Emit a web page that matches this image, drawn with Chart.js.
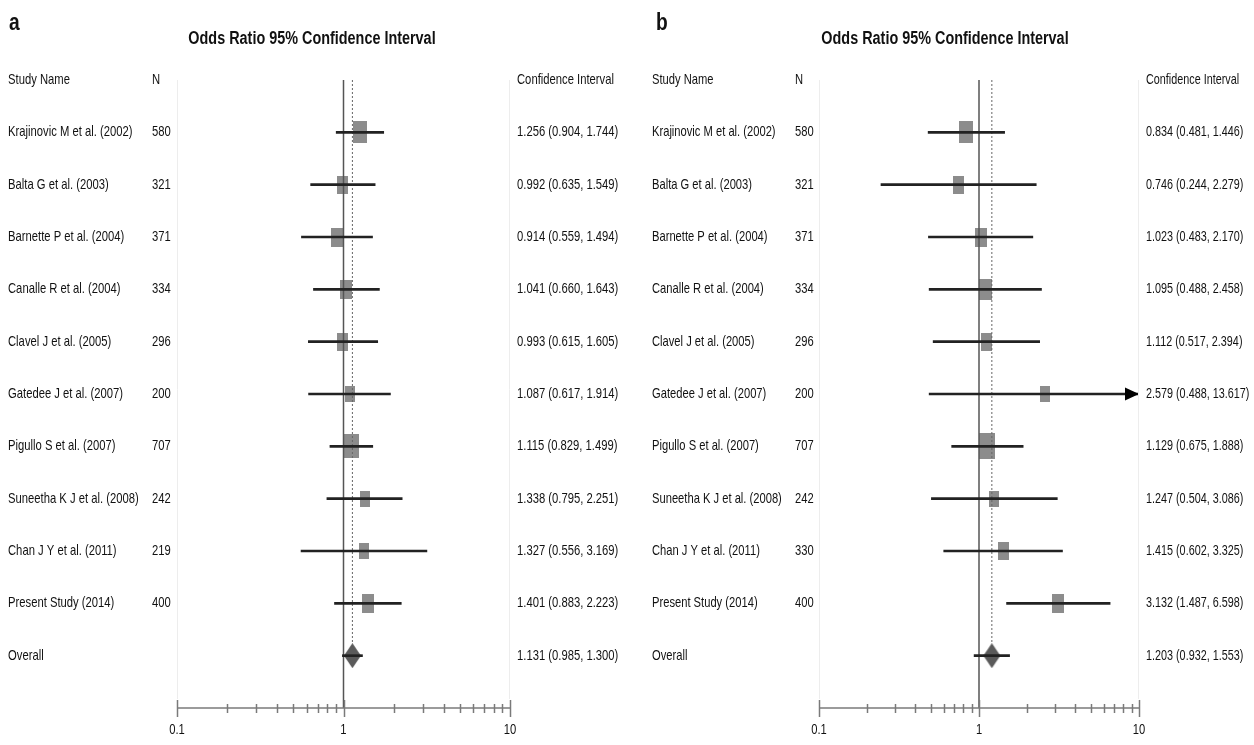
<!DOCTYPE html>
<html>
<head>
<meta charset="utf-8">
<script src="https://cdn.jsdelivr.net/npm/chart.js@4.4.1/dist/chart.umd.min.js"></script>
<style>
  body { margin: 0; background: #fff; }
  #wrap { position: relative; width: 1254px; height: 745px; }
  canvas { position: absolute; top: 0; }
  #forestA { left: 0; }
  #forestB { left: 627px; }
</style>
</head>
<body>
<div id="wrap">
  <canvas id="forestA" width="627" height="745"></canvas>
  <canvas id="forestB" width="627" height="745"></canvas>
</div>
<script>
// study rows (last one is the pooled estimate)
const studies = [
    "Krajinovic M et al. (2002)", "Balta G et al. (2003)", "Barnette P et al. (2004)",
    "Canalle R et al. (2004)", "Clavel J et al. (2005)", "Gatedee J et al. (2007)",
    "Pigullo S et al. (2007)", "Suneetha K J et al. (2008)", "Chan J Y et al. (2011)",
    "Present Study (2014)", "Overall"
];

// panel a
const nA  = [580, 321, 371, 334, 296, 200, 707, 242, 219, 400];
const orA = [1.256, 0.992, 0.914, 1.041, 0.993, 1.087, 1.115, 1.338, 1.327, 1.401, 1.131];
const loA = [0.904, 0.635, 0.559, 0.660, 0.615, 0.617, 0.829, 0.795, 0.556, 0.883, 0.985];
const hiA = [1.744, 1.549, 1.494, 1.643, 1.605, 1.914, 1.499, 2.251, 3.169, 2.223, 1.300];
const wtA = [14, 11, 12, 12, 11, 10, 15, 10, 10, 12];   // relative study weight (box size)

// panel b
const nB  = [580, 321, 371, 334, 296, 200, 707, 242, 330, 400];
const orB = [0.834, 0.746, 1.023, 1.095, 1.112, 2.579, 1.129, 1.247, 1.415, 3.132, 1.203];
const loB = [0.481, 0.244, 0.483, 0.488, 0.517, 0.488, 0.675, 0.504, 0.602, 1.487, 0.932];
const hiB = [1.446, 2.279, 2.170, 2.458, 2.394, 13.617, 1.888, 3.086, 3.325, 6.598, 1.553];
const wtB = [14, 11, 12, 13, 11, 10, 16, 10, 11, 12];

const tickValues = [0.1, 1, 10];
const tickLabels = ["0.1", "1", "10"];

const FONT = "'Liberation Sans', Arial, sans-serif";

function text(ctx, s, x, y, font, align, squeeze) {
    ctx.save();
    ctx.font = font;
    ctx.fillStyle = "#111";
    ctx.textAlign = align || "left";
    ctx.textBaseline = "middle";
    ctx.translate(x, y);
    ctx.scale(squeeze || 0.8, 1);
    ctx.fillText(s, 0, 0);
    ctx.restore();
}

function boxImage(w, h) {
    const c = document.createElement("canvas");
    c.width = w; c.height = h;
    const g = c.getContext("2d");
    g.fillStyle = "#8c8c8c";
    g.fillRect(0, 0, w, h);
    return c;
}

function diamondImage(w, h) {
    const c = document.createElement("canvas");
    c.width = w; c.height = h;
    const g = c.getContext("2d");
    g.fillStyle = "#5a5a5a";
    g.beginPath();
    g.moveTo(w / 2, 0);
    g.lineTo(w, h / 2);
    g.lineTo(w / 2, h);
    g.lineTo(0, h / 2);
    g.closePath();
    g.fill();
    return c;
}

function ciText(o, l, h) {
    return o.toFixed(3) + " (" + l.toFixed(3) + ", " + h.toFixed(3) + ")";
}

function forest(id, cfg) {
    const last = studies.length - 1;
    const xMax = 10;
    const body = "15px " + FONT;

    const squares = cfg.wt.map(function(w, i) {
        return { x: cfg.or[i], y: i };
    });
    const squareStyles = cfg.wt.map(function(w) {
        return boxImage(w, Math.round(w * 1.6));
    });

    const labelsPlugin = {
        id: "forestText",
        afterDraw: function(chart) {
            const ctx = chart.ctx;
            const xs = chart.scales.x;
            const ys = chart.scales.y;
            const area = chart.chartArea;
            const c = cfg.cols;

            text(ctx, cfg.letter, c.letter, 23, "bold 24px " + FONT);
            text(ctx, "Odds Ratio 95% Confidence Interval", c.title, 39, "bold 18px " + FONT, "center");

            const hy = ys.getPixelForValue(-1);
            text(ctx, "Study Name", c.name, hy, body, "left", cfg.sqName);
            text(ctx, "N", c.n, hy, body, "left", cfg.sqName);
            text(ctx, "Confidence Interval", c.ci, hy, body, "left", cfg.sqCi);

            studies.forEach(function(s, i) {
                const y = ys.getPixelForValue(i);
                text(ctx, s, c.name, y, body, "left", cfg.sqName);
                if (i < last) text(ctx, String(cfg.n[i]), c.n, y, body, "left", cfg.sqName);
                text(ctx, ciText(cfg.or[i], cfg.lo[i], cfg.hi[i]), c.ci, y, body, "left", cfg.sqCi);
            });

            // arrows for intervals running past the axis
            ctx.save();
            ctx.fillStyle = "#000";
            cfg.hi.forEach(function(h, i) {
                if (h > xMax) {
                    const tip = xs.getPixelForValue(xMax);
                    const y = ys.getPixelForValue(i);
                    ctx.beginPath();
                    ctx.moveTo(tip, y);
                    ctx.lineTo(tip - 14, y - 6.5);
                    ctx.lineTo(tip - 14, y + 6.5);
                    ctx.closePath();
                    ctx.fill();
                }
            });
            ctx.restore();

            // bottom log axis
            const ay = area.bottom;
            ctx.save();
            ctx.strokeStyle = "#7a7a7a";
            ctx.lineWidth = 1.5;
            ctx.beginPath();
            ctx.moveTo(xs.getPixelForValue(xs.min), ay);
            ctx.lineTo(xs.getPixelForValue(xs.max), ay);
            ctx.stroke();
            [0.1, 1].forEach(function(d) {
                for (let k = 1; k <= 9; k++) {
                    const px = Math.round(xs.getPixelForValue(k * d)) + 0.5;
                    const big = k === 1;
                    ctx.beginPath();
                    ctx.moveTo(px, ay - (big ? 8 : 4));
                    ctx.lineTo(px, ay + (big ? 9 : 5));
                    ctx.stroke();
                }
            });
            const p10 = Math.round(xs.getPixelForValue(10)) + 0.5;
            ctx.beginPath();
            ctx.moveTo(p10, ay - 8);
            ctx.lineTo(p10, ay + 9);
            ctx.stroke();

            // faint frame of the plot column
            ctx.strokeStyle = "#ededed";
            ctx.lineWidth = 1;
            [area.left + 0.5, area.right - 0.5].forEach(function(px) {
                ctx.beginPath();
                ctx.moveTo(px, area.top);
                ctx.lineTo(px, ay - 9);
                ctx.stroke();
            });
            ctx.restore();

            tickValues.forEach(function(v, i) {
                text(ctx, tickLabels[i], xs.getPixelForValue(v), ay + 22, body, "center", cfg.sqName);
            });
        }
    };

    return new Chart(document.getElementById(id), {
        type: "scatter",
        data: {
            datasets: [{
                label: "studies",
                data: squares,
                pointStyle: squareStyles,
                order: 3
            }, {
                label: "overall",
                data: [{ x: cfg.or[last], y: last }],
                pointStyle: diamondImage(17, 25),
                order: 3
            }, {
                label: "no effect",
                data: [{ x: 1, y: -1 }, { x: 1, y: 11 }],
                showLine: true,
                borderColor: "#555",
                borderWidth: 1.5,
                pointRadius: 0,
                order: 2
            }, {
                label: "pooled",
                data: [{ x: cfg.or[last], y: -1 }, { x: cfg.or[last], y: last - 0.24 }],
                showLine: true,
                borderColor: "#666",
                borderWidth: 1,
                borderDash: [2, 2],
                pointRadius: 0,
                order: 2
            }, {
                type: "bar",
                label: "95% CI",
                indexAxis: "y",
                data: studies.map(function(s, i) {
                    return { x: [cfg.lo[i], Math.min(cfg.hi[i], xMax)], y: i };
                }),
                backgroundColor: "#222",
                barThickness: 2,
                order: 1
            }]
        },
        options: {
            responsive: false,
            animation: false,
            events: [],
            layout: { padding: cfg.pad },
            plugins: {
                legend: { display: false },
                tooltip: { enabled: false }
            },
            scales: {
                x: { type: "logarithmic", min: 0.1, max: xMax, offset: false, display: false },
                y: { type: "linear", min: -1, max: 11, reverse: true, offset: false, display: false }
            }
        },
        plugins: [labelsPlugin]
    });
}

forest("forestA", {
    letter: "a", n: nA, or: orA, lo: loA, hi: hiA, wt: wtA,
    sqName: 0.75, sqCi: 0.75,
    pad: { left: 177, right: 117, top: 80, bottom: 37 },
    cols: { letter: 9, title: 312, name: 8, n: 152, ci: 517 }
});

forest("forestB", {
    letter: "b", n: nB, or: orB, lo: loB, hi: hiB, wt: wtB,
    sqName: 0.745, sqCi: 0.72,
    pad: { left: 192, right: 115, top: 80, bottom: 37 },
    cols: { letter: 29, title: 318, name: 25, n: 168, ci: 519 }
});
</script>
</body>
</html>
